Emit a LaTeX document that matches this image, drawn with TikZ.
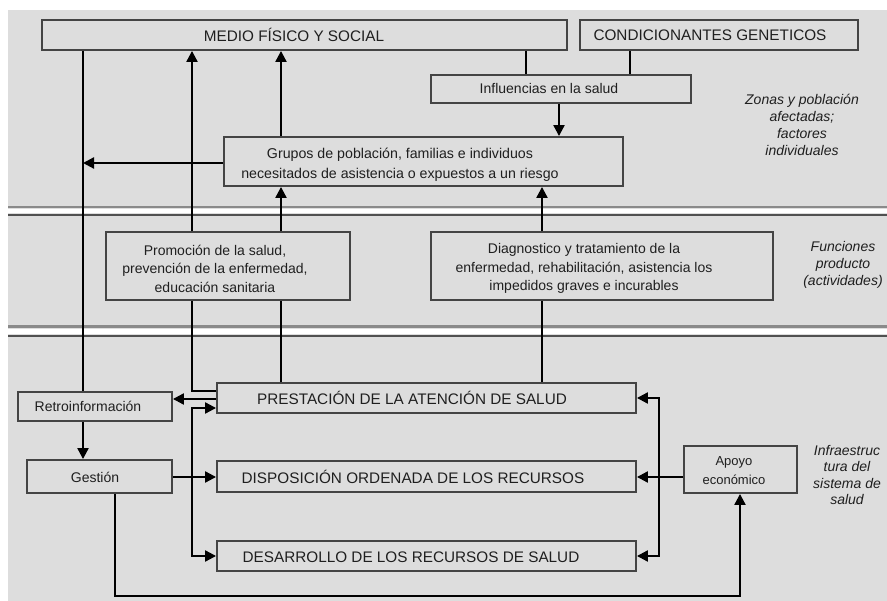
\documentclass[tikz,border=0pt]{standalone}
\usepackage{fontspec}
\setmainfont{Liberation Sans}
\usetikzlibrary{arrows.meta}
\definecolor{bg}{HTML}{DDDDDD}
\definecolor{boxline}{HTML}{444444}
\definecolor{sepa}{HTML}{8A8A8A}
\definecolor{sepb}{HTML}{505050}
\begin{document}
\begin{tikzpicture}[x=1pt,y=-1pt,
  box/.style={draw=boxline, line width=1.9pt, fill=bg, inner sep=0pt, rectangle},
  txt/.style={font=\fontsize{14}{18.5}\selectfont, align=center, inner sep=0pt, text=black!88},
  captxt/.style={font=\fontsize{15.3}{18}\selectfont, inner sep=0pt, text=black!88},
  side/.style={font=\fontsize{14}{17}\selectfont\itshape, align=center, inner sep=0pt, text=black!88},
  conn/.style={line width=2.2pt, draw=black},
  arr/.style={conn, -{Triangle[length=11pt,width=11pt]}},
  arrb/.style={conn, {Triangle[length=11pt,width=11pt]}-{Triangle[length=11pt,width=11pt]}},
  ]
\useasboundingbox (0,0) rectangle (887,601);
\fill[white] (0,0) rectangle (887,601);
\fill[bg] (8,10) rectangle (887,601);

% separators
\draw[sepa, line width=2.5pt] (8,207) -- (887,207);
\fill[white] (8,209.5) rectangle (887,213);
\draw[sepb, line width=2.5pt] (8,215) -- (887,215);
\draw[sepa, line width=2.5pt] (8,326.5) -- (887,326.5);
\fill[white] (8,329) rectangle (887,334);
\draw[sepb, line width=2.5pt] (8,336) -- (887,336);

% helper coordinates
\coordinate (x83) at (83,0);
\coordinate (x115) at (115,0);
\coordinate (x192) at (192,0);
\coordinate (x281) at (281,0);
\coordinate (x526) at (526,0);
\coordinate (x542) at (542,0);
\coordinate (x559) at (559,0);
\coordinate (x630) at (630,0);
\coordinate (x659) at (659,0);
\coordinate (x740) at (740,0);
\coordinate (y163) at (0,163);
\coordinate (y391) at (0,391);
\coordinate (y399) at (0,399);
\coordinate (y408) at (0,408);
\coordinate (y477) at (0,477);
\coordinate (y596) at (0,596);

% boxes
\node[box, minimum width=525pt, minimum height=30pt] (medio) at (304.5,35) {};
\node[box, minimum width=278pt, minimum height=30pt] (cond) at (719,35) {};
\node[box, minimum width=260pt, minimum height=28pt] (infl) at (561,89) {};
\node[box, minimum width=399pt, minimum height=49pt] (grupos) at (423.5,161.5) {};
\node[box, minimum width=244pt, minimum height=68pt] (promo) at (228,266) {};
\node[box, minimum width=342pt, minimum height=68pt] (diag) at (602,266) {};
\node[box, minimum width=154pt, minimum height=29pt] (retro) at (95,406.5) {};
\node[box, minimum width=145pt, minimum height=33pt] (gestion) at (99.5,476.5) {};
\node[box, minimum width=419pt, minimum height=30pt] (prest) at (426.5,398) {};
\node[box, minimum width=419pt, minimum height=31pt] (dispo) at (426.5,476.5) {};
\node[box, minimum width=419pt, minimum height=30pt] (desa) at (426.5,556) {};
\node[box, minimum width=113pt, minimum height=47pt] (apoyo) at (740.5,469.5) {};

% texts
\node[captxt] (tmedio) at (294,35) {MEDIO FÍSICO Y SOCIAL};
\node[captxt] (tcond) at (710,35) {CONDICIONANTES GENETICOS};
\node[txt] (tinfl) at (549,89) {Influencias en la salud};
\node[txt, font=\fontsize{14.2}{20}\selectfont] (tgrupos) at (400,165) {Grupos de población, familias e individuos\\necesitados de asistencia o expuestos a un riesgo};
\node[txt] (tpromo) at (215,268.5) {Promoción de la salud,\\prevención de la enfermedad,\\educación sanitaria};
\node[txt] (tdiag) at (584,268.5) {Diagnostico y tratamiento de la\\enfermedad, rehabilitación, asistencia los\\impedidos graves e incurables};
\node[txt] (tretro) at (88,406) {Retroinformación};
\node[txt] (tgestion) at (95,477) {Gestión};
\node[captxt] (tprest) at (412,398) {PRESTACIÓN DE LA ATENCIÓN DE SALUD};
\node[captxt] (tdispo) at (413,477) {DISPOSICIÓN ORDENADA DE LOS RECURSOS};
\node[captxt] (tdesa) at (411,557) {DESARROLLO DE LOS RECURSOS DE SALUD};
\node[txt, font=\fontsize{13}{19}\selectfont] (tapoyo) at (734,470.5) {Apoyo\\económico};

% side labels
\node[side] (lzonas) at (802,125) {Zonas y población\\afectadas;\\factores\\individuales};
\node[side] (lfunc) at (843,265) {Funciones\\producto\\(actividades)};
\node[side, font=\fontsize{14}{16.5}\selectfont\itshape] (linfra) at (847,475) {Infraestruc\\tura del\\sistema de\\salud};

% connectors
\draw[conn] (medio.south -| x526) -- (infl.north -| x526);
\draw[conn] (cond.south -| x630) -- (infl.north -| x630);
\draw[arr] (infl.south -| x559) -- (grupos.north -| x559);
\draw[conn] (medio.south -| x83) -- (retro.north -| x83);
\draw[arr] (grupos.west |- y163) -- (x83 |- y163);
\draw[arr] (retro.south -| x83) -- (gestion.north -| x83);
\draw[arr] (promo.north -| x192) -- (medio.south -| x192);
\draw[conn] (prest.west |- y391) -| (promo.south -| x192);
\draw[arr] (grupos.north -| x281) -- (medio.south -| x281);
\draw[arr] (promo.north -| x281) -- (grupos.south -| x281);
\draw[conn] (prest.north -| x281) -- (promo.south -| x281);
\draw[arr] (diag.north -| x542) -- (grupos.south -| x542);
\draw[conn] (prest.north -| x542) -- (diag.south -| x542);
\draw[arr] (prest.west |- y399) -- (retro.east |- y399);
\draw[arr] (gestion.east |- y477) -- (dispo.west |- y477);
\draw[arrb] (prest.west |- y408) -- (x192 |- y408) -- (x192 |- desa.west) -- (desa.west);
\draw[arr] (apoyo.west |- y477) -- (dispo.east |- y477);
\draw[arrb] (prest.east) -- (x659 |- prest.east) -- (x659 |- desa.east) -- (desa.east);
\draw[arr] (gestion.south -| x115) -- (x115 |- y596) -| (apoyo.south -| x740);
\end{tikzpicture}
\end{document}
